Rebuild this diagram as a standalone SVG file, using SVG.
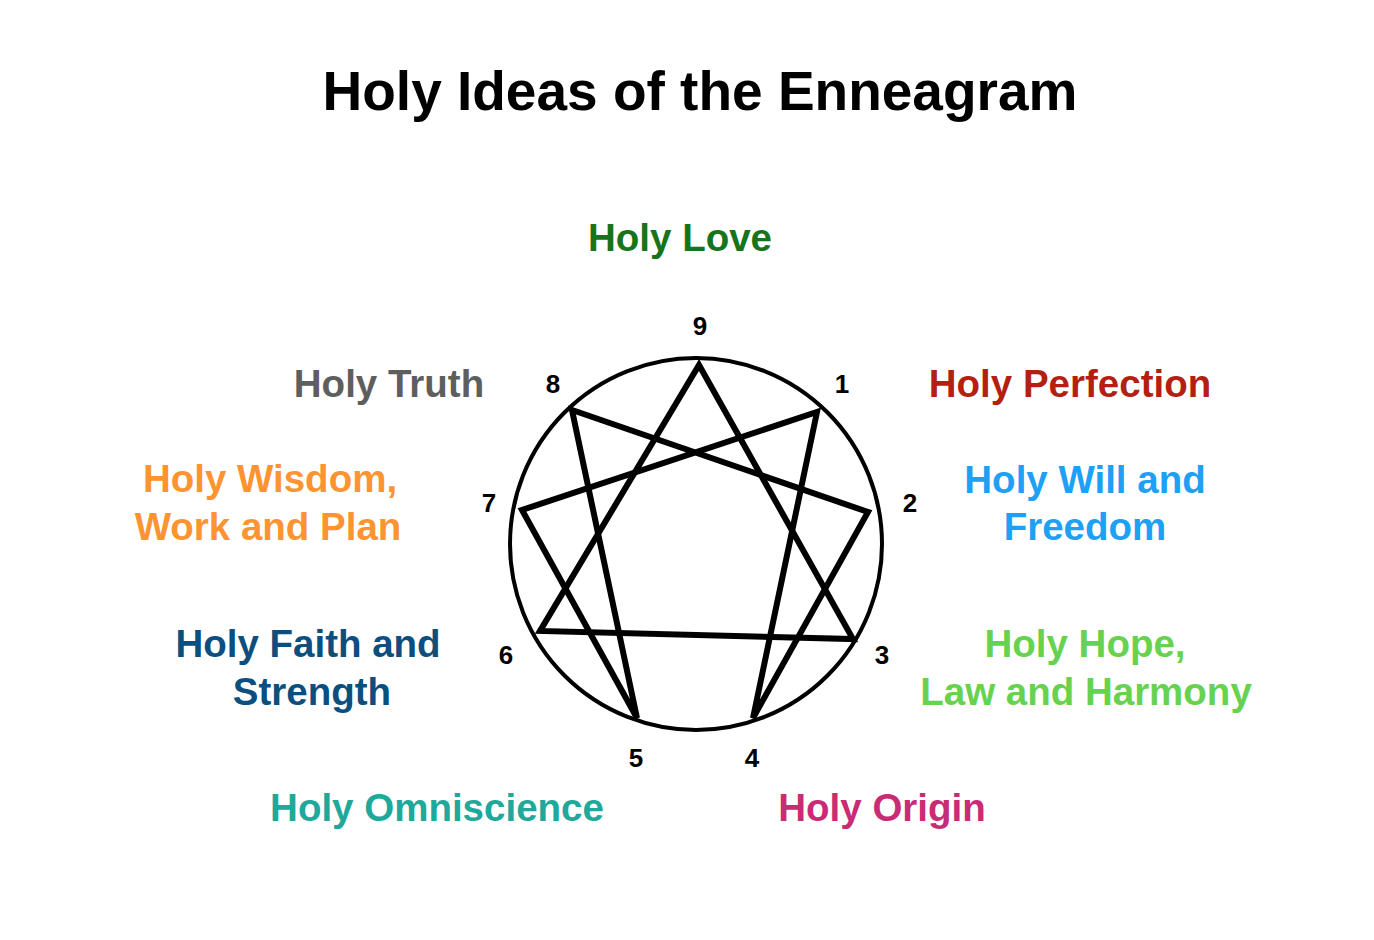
<svg xmlns="http://www.w3.org/2000/svg" width="1374" height="940" viewBox="0 0 1374 940">
<style>
text{font-family:"Liberation Sans",Arial,Helvetica,sans-serif;font-weight:bold;text-anchor:middle}
.t{font-size:55px;fill:#000}
.l{font-size:38.5px}
.n{font-size:26px;fill:#000}
.e{fill:none;stroke:#000;stroke-width:6;stroke-linejoin:miter}
</style>
<rect width="1374" height="940" fill="#fff"/>
<text class="t" x="700" y="110">Holy Ideas of the Enneagram</text>
<g id="connectors">
<circle cx="696" cy="544" r="186" fill="none" stroke="#000" stroke-width="4"/>
<polygon class="e" points="699,365 853,639 540,631"/>
<polygon class="e" points="817,412 753,718 868,512 572,410 637,718 522,510"/>
</g>
<g id="p9"><text class="n" x="700" y="335">9</text><text class="l" x="680" y="251" fill="#17741c">Holy Love</text></g>
<g id="p1"><text class="n" x="842" y="393">1</text><text class="l" x="1070" y="397" fill="#b51f12">Holy Perfection</text></g>
<g id="p2"><text class="n" x="910" y="512">2</text><text class="l" x="1085" y="493" fill="#1ea0f5">Holy Will and</text><text class="l" x="1085" y="540" fill="#1ea0f5">Freedom</text></g>
<g id="p3"><text class="n" x="882" y="664">3</text><text class="l" x="1085" y="657" fill="#67d24f">Holy Hope,</text><text class="l" x="1086" y="705" fill="#67d24f">Law and Harmony</text></g>
<g id="p4"><text class="n" x="752" y="767">4</text><text class="l" x="882" y="821" fill="#c92b74">Holy Origin</text></g>
<g id="p5"><text class="n" x="636" y="767">5</text><text class="l" x="437" y="821" fill="#20a89a">Holy Omniscience</text></g>
<g id="p6"><text class="n" x="506" y="664">6</text><text class="l" x="308" y="657" fill="#0c4f7e">Holy Faith and</text><text class="l" x="312" y="705" fill="#0c4f7e">Strength</text></g>
<g id="p7"><text class="n" x="489" y="512">7</text><text class="l" x="270" y="492" fill="#fd9431">Holy Wisdom,</text><text class="l" x="268" y="540" fill="#fd9431">Work and Plan</text></g>
<g id="p8"><text class="n" x="553" y="393">8</text><text class="l" x="389" y="397" fill="#5e5e5e">Holy Truth</text></g>
</svg>
